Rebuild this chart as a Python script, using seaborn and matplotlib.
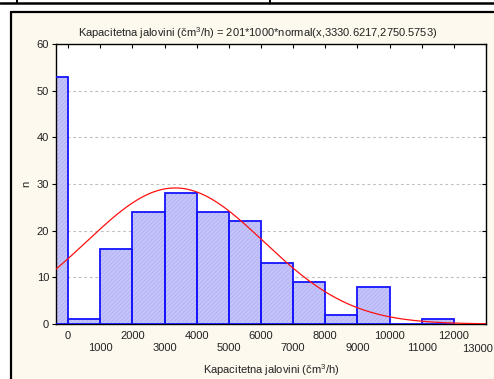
import numpy as np
import pandas as pd
import matplotlib
matplotlib.use("Agg")
import matplotlib.pyplot as plt
import seaborn as sns
from matplotlib.patches import Rectangle
from matplotlib.lines import Line2D

# Histogram counts per 1000-wide class (left edges)
bin_left = [-1000, 0, 1000, 2000, 3000, 4000, 5000, 6000, 7000, 8000, 9000, 10000, 11000]
counts = [53, 1, 16, 24, 28, 24, 22, 13, 9, 2, 8, 0, 1]
bin_width = 1000

# Fitted normal curve parameters (from the title formula)
n_total = 201
fit_mean = 3330.6217
fit_sd = 2750.5753

tick_values = list(range(0, 14000, 1000))
tick_labels = ["0", "1000", "2000", "3000", "4000", "5000", "6000", "7000",
               "8000", "9000", "10000", "11000", "12000", "13000"]
title_text = "Kapacitetna jalovini (čm$^3$/h) = 201*1000*normal(x,3330.6217,2750.5753)"
xlabel_text = "Kapacitetna jalovini (čm$^3$/h)"
ylabel_text = "n"

sns.set_theme(style="white")
plt.rcParams["font.family"] = ["Liberation Sans", "DejaVu Sans"]
plt.rcParams["mathtext.fontset"] = "custom"
plt.rcParams["mathtext.rm"] = "Liberation Sans"
plt.rcParams["mathtext.it"] = "Liberation Sans"
plt.rcParams["hatch.linewidth"] = 0.4

W, H = 494, 379
fig = plt.figure(figsize=(W / 100, H / 100), dpi=100, facecolor="white")

# Document frame around the chart
fig.patches.append(Rectangle((11 / W, 0), 1 - 11 / W, 1 - 12 / H, transform=fig.transFigure,
                             facecolor="#fdf9ee", edgecolor="none", zorder=-5))
fig.add_artist(Line2D([11 / W, 11 / W], [0, 1 - 12 / H], color="black", lw=1.6,
                      transform=fig.transFigure, zorder=-4))
fig.add_artist(Line2D([11 / W, 1], [1 - 12 / H, 1 - 12 / H], color="black", lw=1.6,
                      transform=fig.transFigure, zorder=-4))
fig.add_artist(Line2D([0, 1], [1 - 3 / H, 1 - 3 / H], color="black", lw=1.8,
                      transform=fig.transFigure, zorder=-4))
for xv in (17, 270):
    fig.add_artist(Line2D([xv / W, xv / W], [1 - 3 / H, 1], color="black", lw=1.4,
                          transform=fig.transFigure, zorder=-4))

ax = fig.add_axes([56 / W, 1 - 324 / H, (486 - 56) / W, (324 - 44) / H])
ax.set_zorder(2)
ax.set_facecolor("white")

df = pd.DataFrame({"center": np.array(bin_left) + bin_width / 2, "count": counts})
edges = list(bin_left) + [bin_left[-1] + bin_width]

# Hatched fill layer
sns.histplot(data=df, x="center", weights="count", bins=edges, ax=ax,
             color="#c4c4fb", alpha=1, linewidth=0, zorder=2)
for p in ax.patches:
    p.set_hatch("////////")
    p.set_edgecolor("#a9a9f3")
    p.set_linewidth(0)
    p.set_facecolor("#c4c4fb")

# Outline layer
sns.histplot(data=df, x="center", weights="count", bins=edges, ax=ax,
             fill=False, element="bars", color="#1414ff", linewidth=1.3, zorder=3)

# Expected frequencies of the fitted normal curve
xs = np.linspace(-375, 13000, 400)
ys = n_total * bin_width * np.exp(-0.5 * ((xs - fit_mean) / fit_sd) ** 2) / (fit_sd * np.sqrt(2 * np.pi))
sns.lineplot(x=xs, y=ys, ax=ax, color="#ff1010", linewidth=0.9, zorder=4)

ax.set_xlim(-375, 13000)
ax.set_ylim(0, 60)
ax.set_yticks(range(0, 70, 10))
ax.set_xticks(tick_values)
shown = [lab if i % 2 == 0 else "\n" + lab for i, lab in enumerate(tick_labels)]
last_label = tick_labels[-1]
shown[-1] = ""
ax.set_xticklabels(shown, linespacing=1.25)
for yv in range(10, 60, 10):
    ax.axhline(yv, color="#c0c0c0", lw=0.8, ls=(0, (2.5, 2.5)), zorder=1)

ax.tick_params(axis="x", which="major", bottom=False, top=True, direction="in",
               length=3, width=0.8, pad=5, labelsize=8, labelcolor="#222222", color="black")
ax.tick_params(axis="y", which="major", left=True, right=False, direction="out",
               length=3, width=0.8, pad=2, labelsize=8, labelcolor="#222222", color="black")

# Right-side inward ticks
ax.plot(np.full(len(range(0, 70, 10)), 1.0), list(range(0, 70, 10)),
        transform=ax.get_yaxis_transform(), ls="none", marker=0, ms=3,
        mew=0.8, color="black", clip_on=False, zorder=5)

# Last staggered label sits against the right edge
ax.annotate(last_label, xy=(tick_values[-1], 0), xycoords=ax.get_xaxis_transform(),
            xytext=(-6, -14.5), textcoords="offset points", ha="center", va="top",
            fontsize=8, color="#222222", annotation_clip=False)

ax.set_xlabel(xlabel_text, fontsize=8, color="#222222", labelpad=7)
ax.set_ylabel(ylabel_text, fontsize=8, color="#222222", labelpad=4)
ax.set_title(title_text, fontsize=8, color="#222222", pad=5, x=0.468)

for s in ax.spines.values():
    s.set_color("black")
    s.set_linewidth(1.0)
    s.set_visible(True)

fig.savefig("out.png", dpi=100, facecolor=fig.get_facecolor())
